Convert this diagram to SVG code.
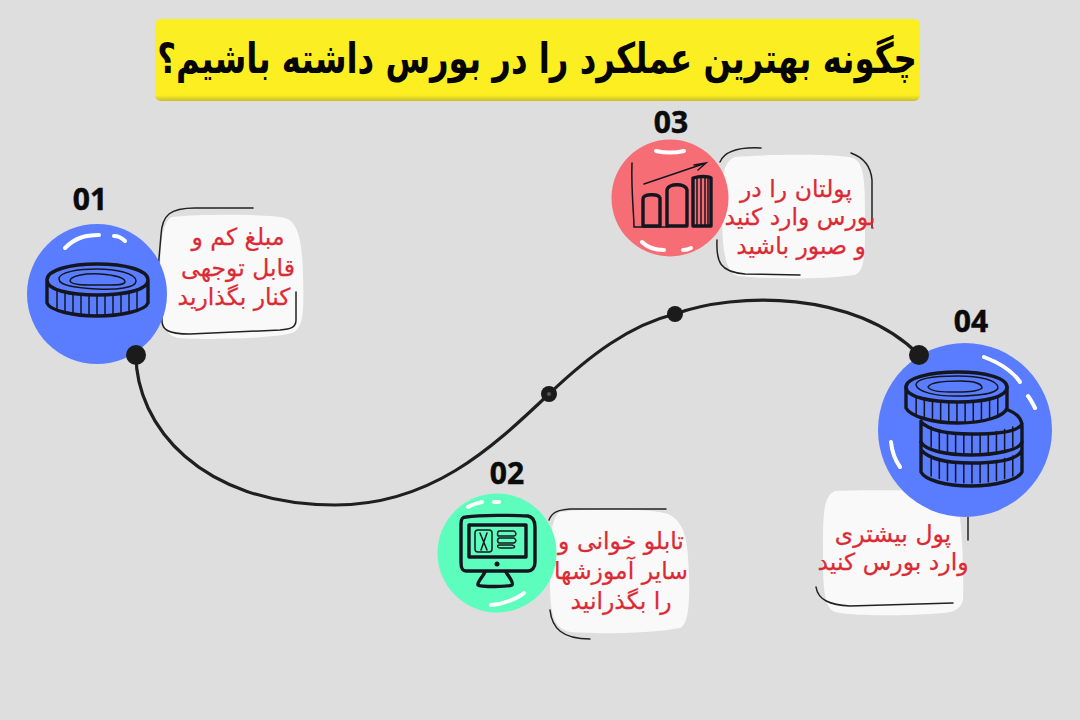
<svg xmlns="http://www.w3.org/2000/svg" width="1080" height="720" viewBox="0 0 1080 720">
<style>
text{font-family:"DejaVu Sans","Noto Sans",sans-serif}
.num{font-family:"Open Sans","Noto Sans",sans-serif;font-weight:700;font-size:30px;fill:#0b0b0b;stroke:#0b0b0b;stroke-width:.5;text-anchor:middle}
.lab{font-size:23.500px;fill:#dc2a35;stroke:#dc2a35;stroke-width:.25;text-anchor:middle;direction:rtl}
.card{fill:#f9f9f9}
.sk{fill:none;stroke:#222;stroke-width:1.5;stroke-linecap:round}
.hl{fill:none;stroke:#fff;stroke-width:4;stroke-linecap:round}
.ink{fill:none;stroke:#14161f;stroke-width:3.4;stroke-linecap:round;stroke-linejoin:round}
.thin{fill:none;stroke:#14161f;stroke-width:1.5;stroke-linecap:round}
.dot{fill:#1b1b1b}
</style>
<defs>
<linearGradient id="ttl" x1="0" y1="0" x2="0" y2="1"><stop offset="0" stop-color="#fbee22"/><stop offset="0.93" stop-color="#fcee21"/><stop offset="1" stop-color="#c9bd2a"/></linearGradient>
<path id="ribs" class="thin" d="M8 3v20M16 5.600v20M24 7.500v20M32 8.900v20M40 9.700v20M48 10v20M56 9.700v20M64 8.900v20M72 7.500v20M80 5.600v20M88 3v20"/>
</defs>
<rect width="1080" height="720" fill="#dedede"/>
<g id="connectors">
<path d="M136 355C136 425 200 505 335 505C430 505 490 450 549 394C590 355 630 325 675 314C735 292 855 290 919 355" fill="none" stroke="#1f1f1f" stroke-width="3.2"/>
<circle class="dot" cx="549" cy="394" r="8"/><circle cx="549" cy="394" r="2" fill="#555"/>
<circle class="dot" cx="675" cy="314" r="8"/>
</g>
<g id="title">
<rect x="155" y="19" width="765" height="82" rx="6" fill="url(#ttl)"/>
<text transform="translate(537 73) scale(.77 1)" font-size="42" font-weight="700" fill="#050505" text-anchor="middle" direction="rtl">چگونه بهترین عملکرد را در بورس داشته باشیم؟</text>
</g>
<g id="node-01">
<path class="card" d="M172 217C200 214 270 214 285 218C298 222 302 240 303 275C304 310 304 328 292 333C270 339 200 340 178 338C162 334 160 318 160 290C160 255 160 222 172 217Z"/>
<path class="sk" d="M253 208H195C170 208 162 215 161 235L158 270M296 292V320C296 328 290 329 280 330L190 334C168 334 161 330 162 318"/>
<circle cx="97" cy="294" r="70" fill="#5a7dff"/>
<path class="hl" d="M65 248C75 238 85 235 99 235M114 236C118 236 122 238 125 241"/>
<path class="ink" d="M47 280C47 270 70 264 97 264C125 264 148 270 148 280C148 290 125 295 97 295C70 295 47 290 47 280ZM47 280V303C50 311 75 316 97 316C120 316 145 311 148 303V280"/>
<path class="thin" d="M59 279C59 272 78 269 97 269C115 269 136 273 136 281C136 288 116 290 97 289C78 288 59 286 59 279ZM70 281C70 276 85 273 100 274C115 275 125 278 125 282C124 286 110 285 95 285C82 285 72 285 70 281Z"/>
<use href="#ribs" transform="translate(49 286)"/>
<text class="num" x="90" y="210">01</text>
<text class="lab" x="238" y="245">مبلغ کم و</text>
<text class="lab" x="238" y="276">قابل توجهی</text>
<text class="lab" x="234" y="305">کنار بگذارید</text>
</g>
<g id="node-02">
<path class="card" d="M560 512C590 508 650 508 668 514C685 522 688 540 689 575C690 605 688 625 680 628C650 634 590 634 570 632C552 628 550 610 550 580C550 545 550 518 560 512Z"/>
<path class="sk" d="M666 509H570C558 510 552 512 549 520M550 610C552 628 562 639 590 639"/>
<circle cx="497" cy="553" r="59.500" fill="#5dfdbd"/>
<path class="hl" d="M468 507C473 504 478 503 482 502M494 502H499M491 605C505 604 518 598 524 593"/>
<path class="ink" d="M466 517C480 515 515 515 528 516C533 517 535 521 535 527V562C535 568 532 571 528 571H466C462 571 461 568 461 562V524C461 519 462 517 466 517Z"/>
<path class="ink" d="M469 525H526V557H469Z"/>
<circle cx="497" cy="564" r="2.500" fill="#14161f"/>
<path class="ink" d="M485 572C482 578 477 582 478 585C480 587 510 587 512 585C514 582 508 576 506 572"/>
<rect x="475" y="530" width="17" height="22" rx="3" class="thin"/>
<path class="thin" d="M480 533L487 550M487 533L481 550"/>
<path class="thin" d="M499 531H514C517 533 516 536 514 536H499C497 536 497 532 499 531ZM499 538H514C517 540 516 542 514 543H499C497 542 497 539 499 538ZM499 545H512C516 546 515 548 512 548H500C497 548 497 545 499 545Z"/>
<text class="num" x="507" y="484">02</text>
<text class="lab" x="621" y="549">تابلو خوانی و</text>
<text class="lab" x="621" y="579">سایر آموزشها</text>
<text class="lab" x="621" y="609">را بگذرانید</text>
</g>
<g id="node-03">
<path class="card" d="M735 157C770 154 840 154 853 158C864 163 865 180 865 215C865 250 866 270 855 275C820 280 760 279 738 276C725 272 722 250 722 210C722 180 722 162 735 157Z"/>
<path class="sk" d="M761 148C740 147 725 150 720 162M851 153C865 158 871 168 872 180V227M717 240C716 262 720 272 745 274L800 275"/>
<circle cx="670" cy="198" r="58.500" fill="#f76d76"/>
<path class="hl" d="M656 151C665 153 675 153 684 151M642 242C648 248 655 250 664 250M683 250C686 250 689 249 691 248"/>
<path class="thin" d="M632 163C631 190 634 215 634 227H668M644 184L706 163M694 165L706 163L698 170"/>
<path class="ink" d="M643 226V199C643 194 658 193 660 198L660 226ZM667 226V190C668 183 686 183 687 190L687 226ZM693 226V178C699 176 708 176 711 178V226Z"/>
<path class="thin" d="M697 178V226M701 177V226M705 177V226M708 177V226"/>
<text class="num" x="671" y="133">03</text>
<text class="lab" x="796" y="197">پولتان را در</text>
<text class="lab" x="800" y="225">بورس وارد کنید</text>
<text class="lab" x="801" y="254">و صبور باشید</text>
</g>
<g id="node-04">
<path class="card" d="M835 491C860 490 940 490 955 492C962 510 964 570 963 600C960 612 950 613 930 614C900 616 850 616 835 612C824 608 823 590 823 550C823 515 823 496 835 491Z"/>
<path class="sk" d="M968 517V540M816 587C818 600 830 605 850 606L953 603"/>
<circle cx="965" cy="430" r="87" fill="#5a7dff"/>
<path class="hl" d="M984 357C1000 363 1013 372 1020 382M1028 396C1031 400 1033 404 1035 408M891 442C892 452 895 460 900 467"/>
<circle class="dot" cx="919" cy="355" r="10"/>
<path class="ink" d="M1008 410C1018 414 1022 420 1022 426V442C1020 450 995 455 971 455C945 455 925 450 921 442V421M921 422C930 431 950 434 971 434C995 434 1018 432 1022 424"/>
<path class="ink" d="M921 442V472C925 480 945 486 971 486C995 486 1018 480 1022 472V442M921 450C930 460 950 463 971 463C995 463 1018 460 1022 450"/>
<use href="#ribs" transform="translate(923 424) scale(1.020 1)"/>
<use href="#ribs" transform="translate(923 453) scale(1.020 1)"/>
<path class="ink" style="fill:#5a7dff" d="M906 387C906 378 930 372 958 372C985 372 1007 378 1007 387V408C1005 416 985 423 958 423C932 423 910 416 906 408Z"/>
<path class="ink" d="M906 387C906 397 930 402 958 402C985 402 1007 397 1007 387"/>
<use href="#ribs" transform="translate(908 393) scale(1.020 1)"/>
<path class="thin" d="M916 385C916 378 935 376 958 376C980 376 998 380 998 388C996 394 975 396 955 396C935 396 918 392 916 385ZM928 387C930 382 945 381 960 381C975 381 982 384 982 388C978 392 965 392 950 392C938 392 930 391 928 387Z"/>
<text class="num" x="971" y="332">04</text>
<text class="lab" x="893" y="542">پول بیشتری</text>
<text class="lab" x="893" y="570">وارد بورس کنید</text>
</g>
<circle class="dot" cx="136" cy="355" r="10"/>
</svg>
